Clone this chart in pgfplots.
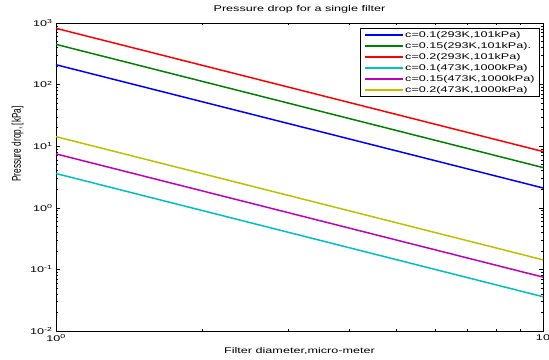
\documentclass[border=0pt]{standalone}
\usepackage{fontspec}
\setmainfont{Liberation Sans}[FakeStretch=1.52]
\newfontfamily\plainfont{Liberation Sans}
\usepackage{graphicx}
\usepackage{pgfplots}
\pgfplotsset{compat=1.18}
\definecolor{mblue}{rgb}{0,0,1}
\definecolor{mgreen}{rgb}{0,0.5,0}
\definecolor{mred}{rgb}{1,0,0}
\definecolor{mcyan}{rgb}{0,0.75,0.75}
\definecolor{mmagenta}{rgb}{0.75,0,0.75}
\definecolor{myellow}{rgb}{0.75,0.75,0}
\begin{document}
\begin{tikzpicture}
\begin{loglogaxis}[
  scale only axis, width=487pt, height=308pt,
  xmin=1, xmax=10, ymin=1e-2, ymax=1e3,
  font=\fontsize{8.3}{10}\selectfont,
  xtick={1,10}, xticklabels={10\textsuperscript{0},10},
  ytick={1e-2,1e-1,1,10,100,1000},
  yticklabels={10\textsuperscript{-2},10\textsuperscript{-1},10\textsuperscript{0},10\textsuperscript{1},10\textsuperscript{2},10\textsuperscript{3}},
  title={Pressure drop for a single filter},
  title style={at={(axis description cs:0.5,1)}, anchor=base, yshift=5.5pt},
  xlabel={Filter diameter,micro-meter},
  xlabel style={at={(axis description cs:0.5,0)}, anchor=base, yshift=-22pt},
  ylabel={\scalebox{1}[1.52]{\plainfont Pressure drop, [kPa]}},
  ylabel style={at={(axis description cs:-0.079,0.607)}, anchor=center},
  axis line style={line width=0.8pt},
  major tick length=4pt, minor tick length=2pt,
  every tick/.style={black, line width=0.5pt},
  legend cell align=left,
  legend image code/.code={\draw[#1, line width=1.5pt] (0pt,0pt) -- (38pt,0pt);},
  legend style={at={(axis description cs:0.9938,0.984)}, anchor=north east,
    draw=black, line width=0.7pt, fill=white, row sep=0pt,
    inner xsep=4pt, inner ysep=1pt,
    nodes={inner sep=1pt, text height=7pt, text depth=2pt},
    font=\fontsize{8.3}{10}\selectfont},
]
\addplot[mblue, line width=1.5pt] coordinates {(1,210) (10,2.1)};
\addlegendentry{c=0.1(293K,101kPa)}
\addplot[mgreen, line width=1.5pt] coordinates {(1,450) (10,4.5)};
\addlegendentry{c=0.15(293K,101kPa).}
\addplot[mred, line width=1.5pt] coordinates {(1,820) (10,8.2)};
\addlegendentry{c=0.2(293K,101kPa)}
\addplot[mcyan, line width=1.5pt] coordinates {(1,3.6) (10,0.036)};
\addlegendentry{c=0.1(473K,1000kPa)}
\addplot[mmagenta, line width=1.5pt] coordinates {(1,7.5) (10,0.075)};
\addlegendentry{c=0.15(473K,1000kPa)}
\addplot[myellow, line width=1.5pt] coordinates {(1,14.3) (10,0.143)};
\addlegendentry{c=0.2(473K,1000kPa)}
\coordinate (sw) at (rel axis cs:0,0);
\end{loglogaxis}
\pgfresetboundingbox
\path (sw) ++(-56pt,-28pt) rectangle ++(549pt,359pt);
\end{tikzpicture}
\end{document}
